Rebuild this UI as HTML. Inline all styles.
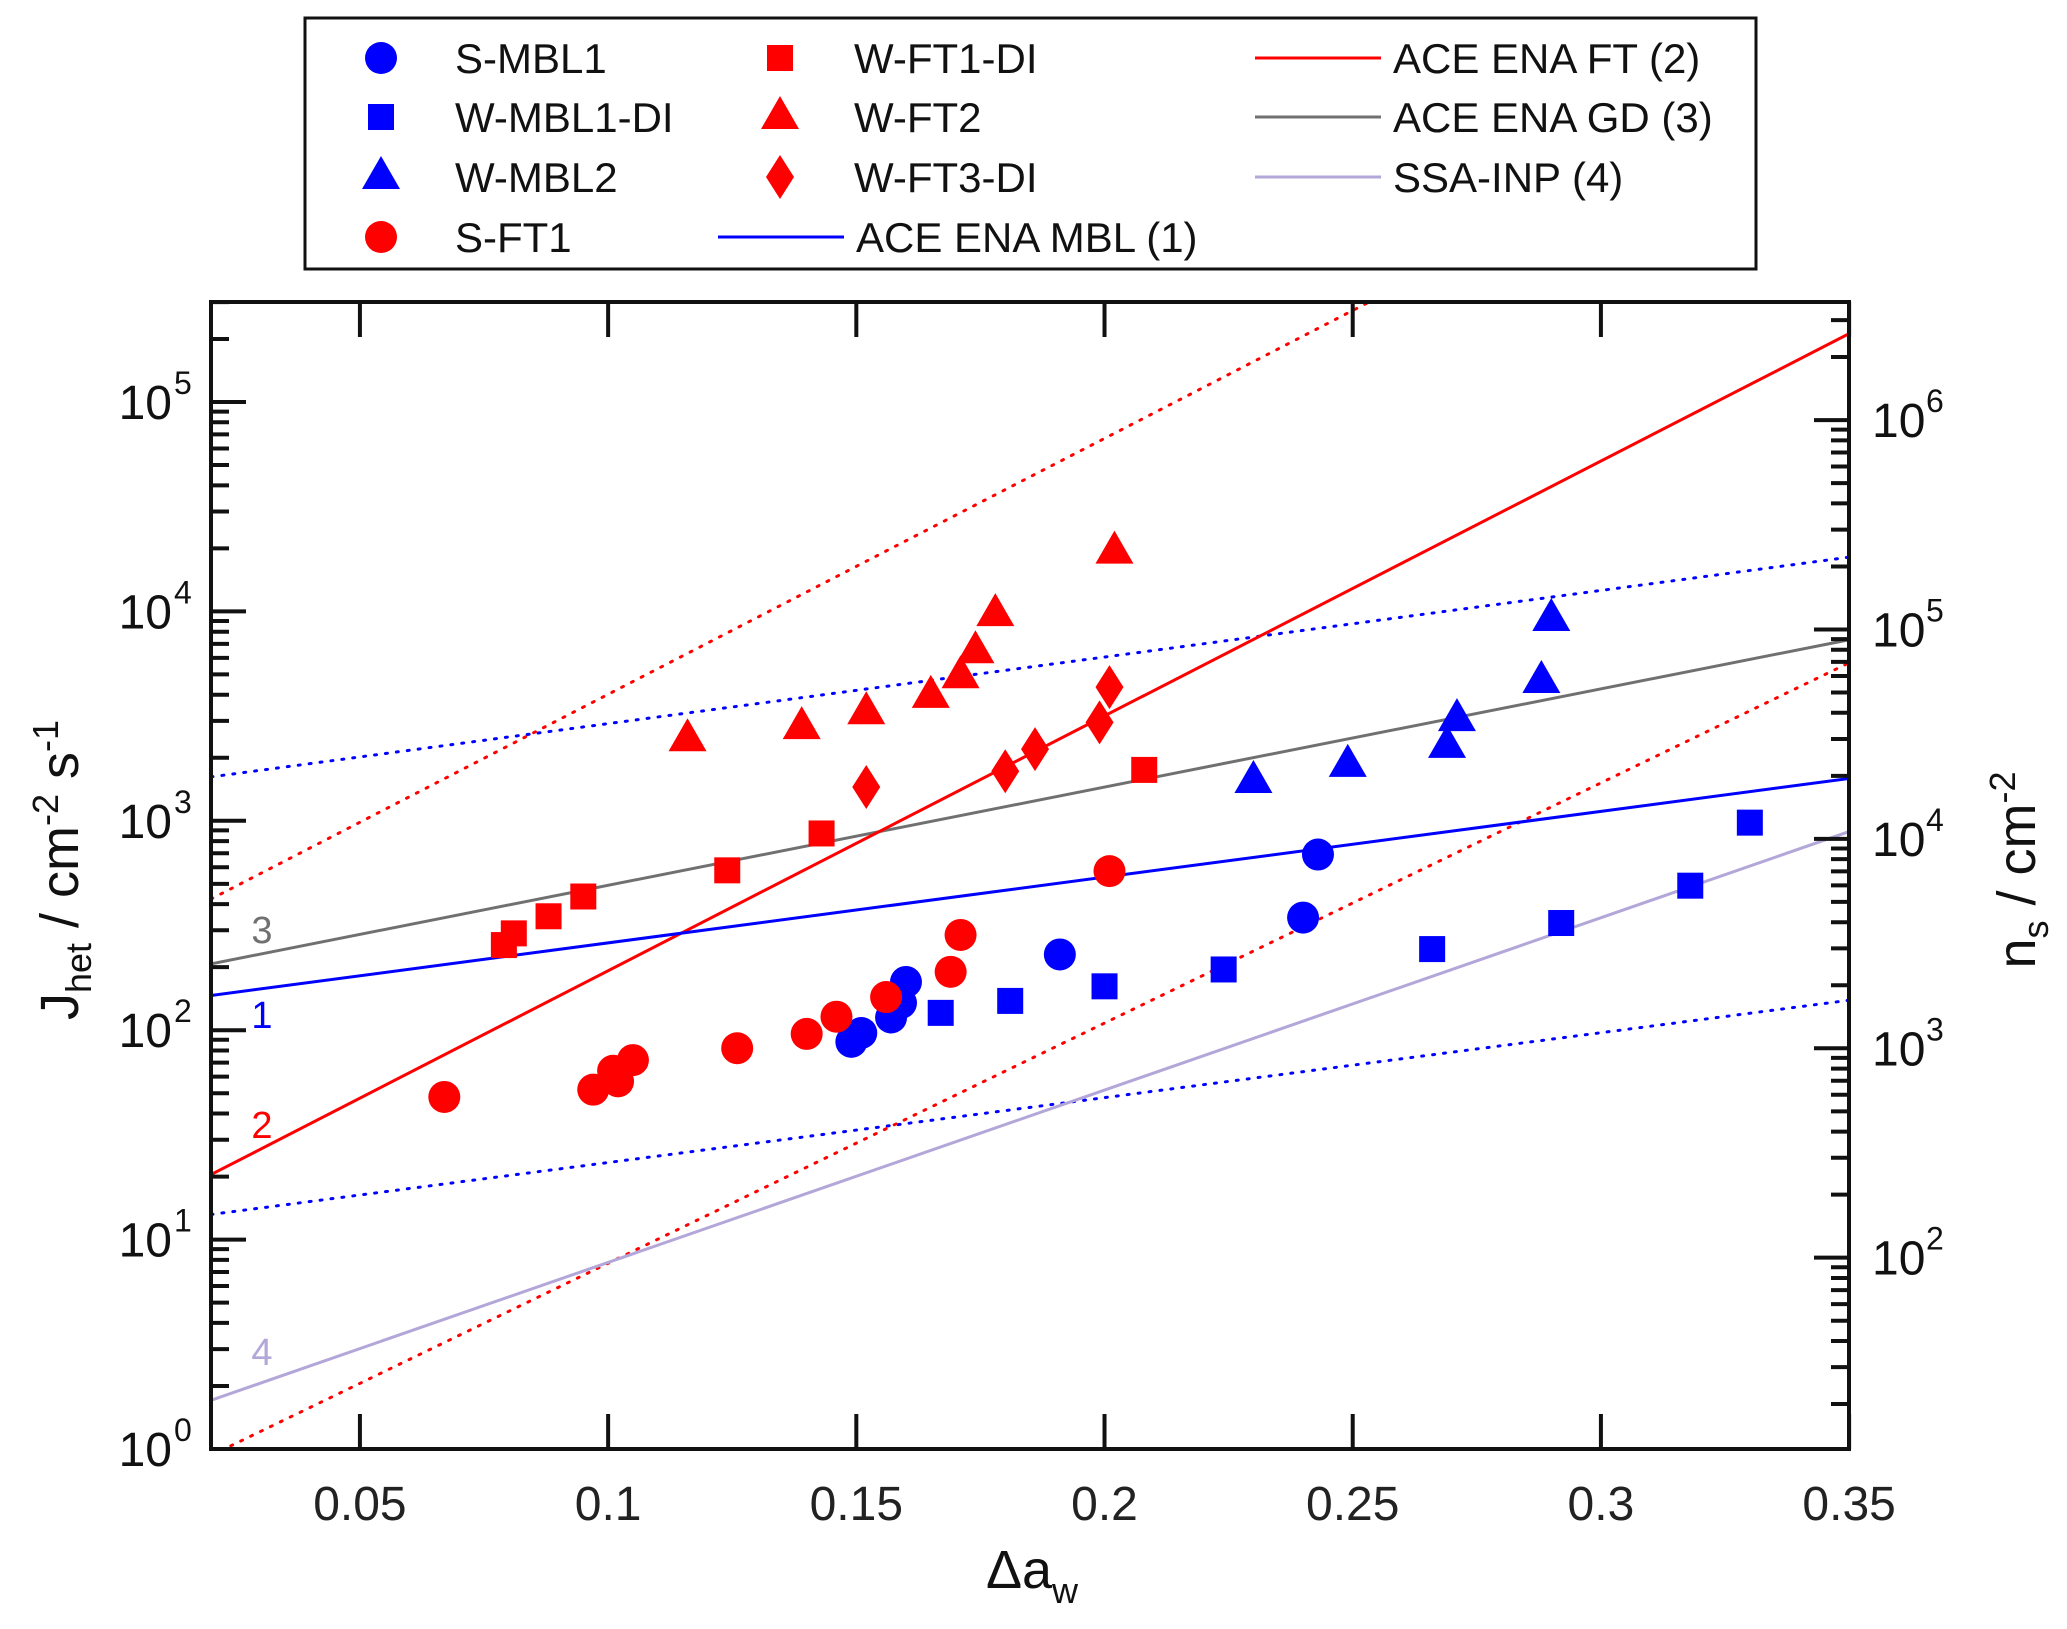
<!DOCTYPE html>
<html><head><meta charset="utf-8">
<style>
html,body{margin:0;padding:0;background:#fff;}
svg{display:block;font-family:"Liberation Sans",Arial,sans-serif;}
</style></head>
<body>
<svg id="chart" width="2067" height="1629" viewBox="0 0 2067 1629" xmlns="http://www.w3.org/2000/svg">
<defs><clipPath id="plotclip"><rect x="211" y="302" width="1638" height="1147"/></clipPath></defs>
<g id="marks" clip-path="url(#plotclip)"></g>
<g id="axes"></g>
<g id="legend"></g>
</svg>
<script>
// ---- data ----
const xTicks = [0.05, 0.1, 0.15, 0.2, 0.25, 0.3, 0.35];
const xTickLabels = ["0.05","0.1","0.15","0.2","0.25","0.3","0.35"];
const yDecades = [0,1,2,3,4,5];
const nsDecades = [2,3,4,5,6];
const nsFactor = 12.2;
const sMBL1 = [[0.149,88],[0.151,97],[0.157,115],[0.159,135],[0.160,170],[0.191,230],[0.240,345],[0.243,690]];
const wMBL1DI = [[0.167,121],[0.181,138],[0.200,162],[0.224,195],[0.266,244],[0.292,325],[0.318,490],[0.330,980]];
const wMBL2 = [[0.230,1550],[0.249,1850],[0.269,2280],[0.271,3060],[0.288,4650],[0.290,9200]];
const sFT1 = [[0.067,48],[0.097,52],[0.102,57],[0.101,64],[0.105,72],[0.126,82],[0.140,96],[0.146,116],[0.156,144],[0.169,190],[0.171,285],[0.201,575]];
const wFT1DI = [[0.079,255],[0.081,290],[0.088,350],[0.095,435],[0.124,580],[0.143,870],[0.208,1750]];
const wFT2 = [[0.116,2450],[0.139,2800],[0.152,3300],[0.165,3950],[0.171,4900],[0.174,6450],[0.178,9700],[0.202,19300]];
const wFT3DI = [[0.152,1450],[0.180,1725],[0.186,2200],[0.199,2950],[0.201,4350]];
// fit lines: log10 J = a + b*x
const lineMBL = [2.103, 3.14];
const lineFT = [1.067, 12.17];
const lineGD = [2.223, 4.69];
const lineSSA = [0.068, 8.23];
const dotMBLhi = [3.146, 3.18];
const dotMBLlo = [1.058, 3.10];
const dotFThi = [2.382, 12.22];
const dotFTlo = [-0.26, 11.47];

// ---- scales ----
const X0=211, X1=1849, Y0=1449, YT=302, DEC=209.4;
function sx(x){return X0+(x-0.02)*4964;}
function syLog(l){return Y0-l*DEC;}
function sy(v){return syLog(Math.log10(v));}
const NS="http://www.w3.org/2000/svg";
function mk(tag,attrs,parent){const e=document.createElementNS(NS,tag);for(const k in attrs)e.setAttribute(k,attrs[k]);parent.appendChild(e);return e;}
const marks=document.getElementById('marks'), axes=document.getElementById('axes'), legend=document.getElementById('legend');
const BLUE="#0000ff", RED="#ff0000", GRAY="#707070", LAV="#b3a6d9";

function fitLine(p,color,dotted,name){
  const xa=0.02,xb=0.35;
  const l=mk('line',{x1:sx(xa),y1:syLog(p[0]+p[1]*xa),x2:sx(xb),y2:syLog(p[0]+p[1]*xb),stroke:color,'stroke-width':3,'stroke-dasharray':dotted?'2 9':'none','stroke-linecap':'round'},marks);
  
  
}
fitLine(dotMBLhi,BLUE,true,'mbl-upper-bound');
fitLine(dotMBLlo,BLUE,true,'mbl-lower-bound');
fitLine(dotFThi,RED,true,'ft-upper-bound');
fitLine(dotFTlo,RED,true,'ft-lower-bound');
fitLine(lineSSA,LAV,false,'ssa-inp-line');
fitLine(lineGD,GRAY,false,'ace-ena-gd-line');
fitLine(lineFT,RED,false,'ace-ena-ft-line');
fitLine(lineMBL,BLUE,false,'ace-ena-mbl-line');

function marker(shape,cx,cy,color,parent){
  let e;
  if(shape==='circle') e=mk('circle',{cx:cx,cy:cy,r:16,fill:color},parent);
  else if(shape==='square') e=mk('rect',{x:cx-13,y:cy-13,width:26,height:26,fill:color},parent);
  else if(shape==='triangle') e=mk('polygon',{points:`${cx},${cy-21} ${cx+19},${cy+12} ${cx-19},${cy+12}`,fill:color},parent);
  else e=mk('polygon',{points:`${cx},${cy-22} ${cx+14},${cy} ${cx},${cy+22} ${cx-14},${cy}`,fill:color},parent);
  return e;
}
function series(data,shape,color,name){
  data.forEach(d=>{
    const e=marker(shape,sx(d[0]),sy(d[1]),color,marks);
    
    
  });
}
series(wMBL1DI,'square',BLUE,'w-mbl1-di');
series(wMBL2,'triangle',BLUE,'w-mbl2');
series(sMBL1,'circle',BLUE,'s-mbl1');
series(wFT1DI,'square',RED,'w-ft1-di');
series(wFT2,'triangle',RED,'w-ft2');
series(wFT3DI,'diamond',RED,'w-ft3-di');
series(sFT1,'circle',RED,'s-ft1');

// line labels
[["3",GRAY,930],["1",BLUE,1015],["2",RED,1125],["4",LAV,1352]].forEach(a=>{
  const t=mk('text',{x:262,y:a[2]+13,fill:a[1],'font-size':38,'text-anchor':'middle'},marks);
  t.textContent=a[0];
  
  
});

// axes frame
const fr=mk('rect',{x:X0,y:YT,width:X1-X0,height:Y0-YT,fill:'none',stroke:'#111','stroke-width':4},axes);



// x ticks
xTicks.forEach((v,i)=>{
  const x=sx(v);
  mk('line',{x1:x,y1:Y0,x2:x,y2:Y0-35,stroke:'#111','stroke-width':4},axes);
  mk('line',{x1:x,y1:YT,x2:x,y2:YT+35,stroke:'#111','stroke-width':4},axes);
  const t=mk('text',{x:x,y:1520,'font-size':48,'text-anchor':'middle',fill:'#222'},axes);
  t.textContent=xTickLabels[i];
  
  
});
// y ticks left
for(let d=-1; d<=5; d++){
  for(let m=1;m<10;m++){
    const l=d+Math.log10(m); const y=syLog(l);
    if(y>Y0+0.5||y<YT) continue;
    mk('line',{x1:X0,y1:y,x2:X0+(m===1?35:18),y2:y,stroke:'#111','stroke-width':4},axes);
  }
}
yDecades.forEach(d=>{
  const y=syLog(d);
  const t=mk('text',{x:172,y:y+17,'font-size':48,'text-anchor':'end',fill:'#111'},axes);
  t.textContent='10';
  
  
  const s=mk('text',{x:174,y:y-8,'font-size':32,'text-anchor':'start',fill:'#111'},axes);
  s.textContent=String(d);
});
// right axis ticks (ns)
const off=Math.log10(nsFactor);
for(let d=1; d<=6; d++){
  for(let m=1;m<10;m++){
    const y=syLog(d+Math.log10(m)-off);
    if(y>Y0||y<YT) continue;
    mk('line',{x1:X1,y1:y,x2:X1-(m===1?35:18),y2:y,stroke:'#111','stroke-width':4},axes);
  }
}
nsDecades.forEach(d=>{
  const y=syLog(d-off);
  const t=mk('text',{x:1872,y:y+17,'font-size':48,fill:'#111'},axes);
  t.textContent='10';
  
  
  const s=mk('text',{x:1926,y:y-8,'font-size':32,fill:'#111'},axes);
  s.textContent=String(d);
});
// axis titles
let t=mk('text',{x:1032,y:1588,'font-size':54,'text-anchor':'middle',fill:'#111'},axes);
t.innerHTML='Δa<tspan font-size="36" dy="15">w</tspan>';


t=mk('text',{x:0,y:0,'font-size':54,'text-anchor':'middle',fill:'#111',transform:'translate(78,870) rotate(-90)'},axes);
t.innerHTML='J<tspan font-size="36" dy="13">het</tspan><tspan dy="-13"> / cm</tspan><tspan font-size="36" dy="-20">-2</tspan><tspan dy="20"> s</tspan><tspan font-size="36" dy="-20">-1</tspan>';


t=mk('text',{x:0,y:0,'font-size':54,'text-anchor':'middle',fill:'#111',transform:'translate(2035,870) rotate(-90)'},axes);
t.innerHTML='n<tspan font-size="36" dy="13">s</tspan><tspan dy="-13"> / cm</tspan><tspan font-size="36" dy="-20">-2</tspan>';



// legend
const lb=mk('rect',{x:305,y:18,width:1451,height:251,fill:'#fff',stroke:'#111','stroke-width':3},legend);


const rows=[58,117,177,237];
const legItems=[
 ['circle',BLUE,'S-MBL1',381,0],['square',BLUE,'W-MBL1-DI',381,1],['triangle',BLUE,'W-MBL2',381,2],['circle',RED,'S-FT1',381,3],
 ['square',RED,'W-FT1-DI',780,0],['triangle',RED,'W-FT2',780,1],['diamond',RED,'W-FT3-DI',780,2],['line',BLUE,'ACE ENA MBL (1)',780,3],
 ['line',RED,'ACE ENA FT (2)',1318,0],['line',GRAY,'ACE ENA GD (3)',1318,1],['line',LAV,'SSA-INP (4)',1318,2]];
legItems.forEach(it=>{
  const y=rows[it[4]];
  const g=mk('g',{},legend);
  
  
  let tx;
  if(it[0]==='line'){
    const x0=it[3]===780?718:1255;
    mk('line',{x1:x0,y1:y,x2:x0+126,y2:y,stroke:it[1],'stroke-width':3},g);
    tx=x0+138;
  } else { marker(it[0],it[3],y,it[1],g); tx=it[3]+74; }
  const tt=mk('text',{x:tx,y:y+15,'font-size':42,fill:'#111'},g);
  tt.textContent=it[2];
});
</script>
</body></html>
